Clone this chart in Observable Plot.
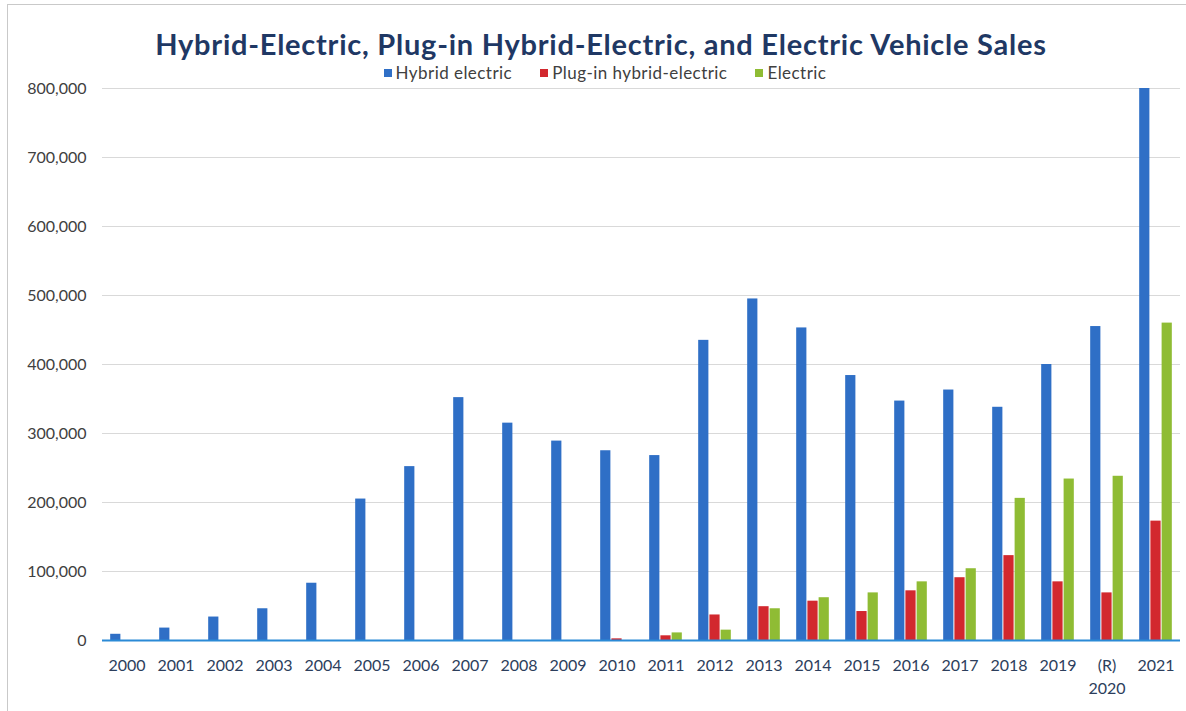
<!DOCTYPE html>
<html>
<head>
<meta charset="utf-8">
<script src="https://cdn.jsdelivr.net/npm/d3@7"></script>
<script src="https://cdn.jsdelivr.net/npm/@observablehq/plot@0.6"></script>
<style>
  html, body { margin: 0; padding: 0; background: #fff; }
  body { width: 1186px; height: 711px; position: relative; overflow: hidden; font-family: Lato, "Open Sans", sans-serif; }
  #frame { position: absolute; left: 7px; top: 4px; right: 0; bottom: 0; border-top: 1px solid #c9c9c9; border-left: 1px solid #c9c9c9; pointer-events: none; }
  #header { position: relative; height: 70px; }
  #title { position: absolute; left: 16px; right: 0; top: 28px; line-height: 32px; text-align: center; font-weight: bold; font-size: 29px; letter-spacing: 0.75px; color: #1f3864; white-space: nowrap; }
  #legend { position: absolute; left: 24px; right: 0; top: 63px; line-height: 20px; display: flex; justify-content: center; gap: 28px; font-size: 17px; letter-spacing: 0.45px; color: #404040; white-space: nowrap; z-index: 1; }
  #legend span.item { display: inline-flex; align-items: center; }
  #legend span.sw { display: inline-block; width: 8px; height: 8px; margin-right: 4px; }
  #chart svg { display: block; }
</style>
</head>
<body>
<div id="frame"></div>
<div id="header">
  <div id="title">Hybrid-Electric, Plug-in Hybrid-Electric, and Electric Vehicle Sales</div>
  <div id="legend"></div>
</div>
<div id="chart"></div>
<script>
const years = ["2000","2001","2002","2003","2004","2005","2006","2007","2008","2009","2010","2011","2012","2013","2014","2015","2016","2017","2018","2019","(R)\n2020","2021"];
const seriesNames = ["Hybrid electric", "Plug-in hybrid-electric", "Electric"];
const seriesColors = ["#2f6fc6", "#d2282e", "#8fbc34"];
const hybrid = [9000, 18000, 34000, 46000, 83000, 205000, 252000, 352000, 315000, 289000, 275000, 268000, 435000, 495000, 453000, 384000, 347000, 363000, 338000, 400000, 455000, 800000];
const plugin = [null, null, null, null, null, null, null, null, null, null, 2400, 6800, 37000, 49000, 57000, 42000, 72000, 91000, 123000, 85000, 69000, 173000];
const electric = [null, null, null, null, null, null, null, null, null, null, null, 11000, 15000, 46000, 62000, 69000, 85000, 104000, 206000, 234000, 238000, 460000];
const yTicks = [0, 100000, 200000, 300000, 400000, 500000, 600000, 700000, 800000];

const seriesValues = [hybrid, plugin, electric];
const data = [];
years.forEach((yr, i) => {
  seriesNames.forEach((s, j) => {
    const v = seriesValues[j][i];
    if (v != null) data.push({year: yr, series: s, value: v});
  });
});

// legend
const legend = document.getElementById("legend");
seriesNames.forEach((s, j) => {
  const item = document.createElement("span");
  item.className = "item";
  const sw = document.createElement("span");
  sw.className = "sw";
  sw.style.background = seriesColors[j];
  item.appendChild(sw);
  item.appendChild(document.createTextNode(s));
  legend.appendChild(item);
});

const chart = Plot.plot({
  width: 1186,
  height: 641,
  marginTop: 18,
  marginBottom: 71,
  marginLeft: 102,
  marginRight: 6,
  style: {fontFamily: "Lato, 'Open Sans', sans-serif", background: "transparent"},
  fx: {domain: years, padding: 0, round: false, label: null},
  x: {domain: seriesNames, paddingInner: 0.09, paddingOuter: 0.73, round: false, axis: null},
  y: {domain: [0, 800000], label: null},
  color: {domain: seriesNames, range: seriesColors},
  marks: [
    Plot.gridY(yTicks, {stroke: "#d9d9d9", strokeOpacity: 1}),
    Plot.barY(data, {fx: "year", x: "series", y: "value", fill: "series"}),
    Plot.ruleY([0], {stroke: "#2b8ad6", strokeWidth: 2}),
    Plot.axisY(yTicks, {tickSize: 0, tickPadding: 16, tickFormat: d3.format(","), fontSize: 16, fill: "#404040", label: null}),
    Plot.axisFx({anchor: "bottom", tickSize: 0, tickPadding: 14, fontSize: 16, fill: "#2c3e5c", label: null, lineHeight: 1.45})
  ]
});
document.getElementById("chart").appendChild(chart);
</script>
</body>
</html>
